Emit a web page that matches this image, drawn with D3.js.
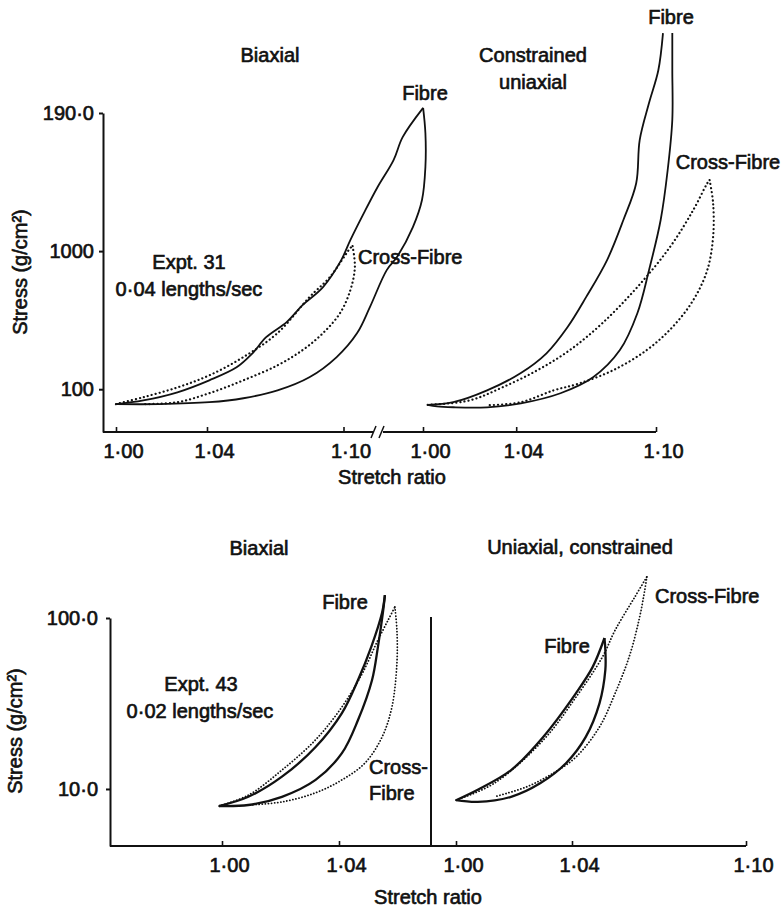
<!DOCTYPE html>
<html>
<head>
<meta charset="utf-8">
<script src="https://cdn.jsdelivr.net/npm/d3@7"></script>
<style>
  body { margin: 0; background: #fff; }
  svg text { font-family: "Liberation Sans", Arial, sans-serif; font-size: 20px; fill: #111; stroke: #111; stroke-width: 0.65px; }
</style>
</head>
<body>
<div id="chart"></div>
<script>
// ---- data: [stretch ratio, stress g/cm2] ----
// Expt. 31, 0.04 lengths/sec
const bi31FibreLoad = [[1.000,78],[1.012,83],[1.027,95],[1.041,116],[1.053,144],[1.060,182],[1.066,238],[1.075,306],[1.082,406],[1.091,549],[1.099,861],[1.103,1200],[1.109,1890],[1.115,2910],[1.122,4560],[1.126,6690],[1.135,10900]]
const bi31FibreUnload = [[1.135,10900],[1.136,7160],[1.136,4065],[1.1345,2344],[1.1305,1493],[1.1235,905],[1.119,728],[1.1116,393],[1.106,255],[1.097,171],[1.085,122],[1.071,98],[1.056,86],[1.041,80.5],[1.019,78],[1.000,78]]
const bi31CrossLoad = [[1.000,78],[1.012,87.5],[1.027,103],[1.041,126],[1.056,171],[1.071,255],[1.085,464],[1.094,649],[1.103,1052],[1.104,1087]]
const bi31CrossUnload = [[1.104,1087],[1.105,766],[1.103,521],[1.0985,356],[1.091,255],[1.082,192],[1.071,149],[1.056,116],[1.041,93.5],[1.027,80.5],[1.012,78]]
const uni31FibreLoad = [[1.002,77],[1.013,80.5],[1.0275,98],[1.042,131],[1.053,182],[1.062,281],[1.070,464],[1.079,861],[1.086,1680],[1.0915,3100],[1.093,6370],[1.097,11800],[1.101,20400],[1.103,37900]]
const uni31FibreUnload = [[1.107,37900],[1.107,20400],[1.107,8940],[1.105,3850],[1.102,1680],[1.097,728],[1.092,355],[1.0845,192],[1.073,122],[1.059,93.5],[1.042,79],[1.0275,74],[1.013,74],[1.006,75],[1.002,77]]
const uni31CrossLoad = [[1.002,77],[1.020,83],[1.034,103],[1.049,137],[1.063,192],[1.077,301],[1.092,549],[1.106,1070],[1.116,1985],[1.122,3100],[1.123,3270]]
const uni31CrossUnload = [[1.123,3270],[1.1245,2237],[1.1245,1260],[1.122,728],[1.116,442],[1.107,281],[1.096,192],[1.0815,137],[1.067,110],[1.056,98],[1.042,80.5],[1.028,76.6]]
// Expt. 43, 0.02 lengths/sec
const bi43FibreLoad = [[0.999,7.95],[1.009,9.0],[1.0205,11.8],[1.032,17.6],[1.041,27.8],[1.0465,43.4],[1.051,67.6],[1.0547,107],[1.0557,136]]
const bi43FibreUnload = [[1.0557,136],[1.055,107],[1.0533,67.6],[1.0513,43.4],[1.0465,25.3],[1.041,16.2],[1.032,11.3],[1.0205,9.0],[1.009,8.06],[0.999,7.95]]
const bi43CrossLoad = [[0.999,7.95],[1.009,9.2],[1.0205,12.9],[1.032,19.4],[1.041,30.2],[1.048,47.6],[1.0533,74.3],[1.0568,97.3],[1.0591,116]]
const bi43CrossUnload = [[1.0591,116],[1.0598,85.1],[1.0598,54.6],[1.0581,30.2],[1.0547,20.1],[1.0489,14.2],[1.041,11.3],[1.032,9.5],[1.0205,8.4],[1.009,8.06]]
const uni43FibreLoad = [[1.000,8.6],[1.0075,9.9],[1.019,12.9],[1.030,20.1],[1.0414,36.4],[1.0471,51.6],[1.0512,76.4]]
const uni43FibreUnload = [[1.0512,76.4],[1.0515,65],[1.0515,49.7],[1.0495,31.8],[1.0447,20.1],[1.038,14.2],[1.029,10.8],[1.019,9.0],[1.0075,8.4],[1.000,8.6]]
const uni43CrossLoad = [[1.000,8.6],[1.0132,10.8],[1.0302,19.4],[1.0414,34.5],[1.0505,59.2],[1.0549,85.1],[1.0617,133],[1.0658,174]]
const uni43CrossUnload = [[1.0658,174],[1.0651,146],[1.0631,97.3],[1.0597,59.2],[1.0549,36.4],[1.0495,23.1],[1.0414,15.4],[1.0336,12.4],[1.0244,10.3],[1.0132,9.0]]

// ---- ticks ----
const topStressTicks = [100, 1000, 10000]
const topStressLabels = ["100", "1000", "190·0"]
const botStressTicks = [10, 100]
const botStressLabels = ["10·0", "100·0"]
const topStretchTicksL = [1.00, 1.04, 1.10]
const topStretchTicksR = [1.00, 1.04, 1.10]
const botStretchTicksL = [1.00, 1.04]
const botStretchTicksR = [1.00, 1.04, 1.10]

const width = 784, height = 909
const svg = d3.select("#chart").append("svg")
    .attr("width", width).attr("height", height)
    .style("background", "#fff")

const fmtStretch = d => d3.format(".2f")(d).replace(".", "·")

// scales
const yTop = d3.scaleLog().domain([49, 10000]).range([432, 113])
const xTopL = d3.scaleLinear().domain([1.00, 1.10]).range([116, 343.5])
const xTopR = d3.scaleLinear().domain([1.00, 1.10]).range([423, 656])
const yBot = d3.scaleLog().domain([4.64, 100]).range([846, 618])
const xBotL = d3.scaleLinear().domain([1.00, 1.04]).range([222, 339])
const xBotR = d3.scaleLinear().domain([1.00, 1.10]).range([456, 746])

function strokeAxis(g, w) {
    g.selectAll("path, line").attr("stroke", "#111").attr("stroke-width", w)
    g.selectAll("text").attr("fill", "#111")
}

// y axes
function stressAxis(x, scale, ticks, labels, pad) {
    const g = svg.append("g").attr("transform", `translate(${x},0)`)
        .call(d3.axisLeft(scale).tickValues(ticks)
            .tickFormat((d, i) => labels[i]).tickSize(4).tickSizeOuter(0).tickPadding(pad))
    g.selectAll("text").style("font-size", "20px").attr("font-family", null)
    strokeAxis(g, 2)
    return g
}
stressAxis(103, yTop, topStressTicks, topStressLabels, 5)
stressAxis(110, yBot, botStressTicks, botStressLabels, 8)

// x axes (ticks point inwards, labels sit a bit right of tick)
function stretchAxis(y, scale, ticks) {
    const g = svg.append("g").attr("transform", `translate(0,${y})`)
        .call(d3.axisBottom(scale).tickValues(ticks).tickFormat(fmtStretch)
            .tickSize(-5).tickPadding(12))
    g.select(".domain").remove()
    g.selectAll("text").attr("dx", 7).attr("font-family", null).style("font-size", "20px")
    strokeAxis(g, 1.6)
    return g
}
stretchAxis(432, xTopL, topStretchTicksL)
stretchAxis(432, xTopR, topStretchTicksR)
stretchAxis(846, xBotL, botStretchTicksL)
stretchAxis(846, xBotR, botStretchTicksR)

// baselines
const axisLine = (x1, y1, x2, y2, w) => svg.append("line")
    .attr("x1", x1).attr("y1", y1).attr("x2", x2).attr("y2", y2)
    .attr("stroke", "#111").attr("stroke-width", w || 2)
axisLine(103, 432, xTopR(1.00) - 50, 432)
axisLine(xTopR(1.00) - 40, 432, xTopR.range()[1], 432)
axisLine(xTopR(1.00) - 52, 438, xTopR(1.00) - 47, 426, 1.5)
axisLine(xTopR(1.00) - 44, 438, xTopR(1.00) - 39, 426, 1.5)
axisLine(110, 846, xBotR.range()[1], 846)
axisLine(431, 617, 431, 846, 2)

// curves
function drawBranch(data, xs, ys, dotted, w, gap) {
    const line = d3.line().x(d => xs(d[0])).y(d => ys(d[1])).curve(d3.curveCatmullRom.alpha(0.5))
    const p = svg.append("path").datum(data).attr("d", line)
        .attr("fill", "none").attr("stroke", "#111")
    if (dotted) {
        p.attr("stroke-width", w).attr("stroke-dasharray", "0.1 " + gap).attr("stroke-linecap", "round")
    } else {
        p.attr("stroke-width", w).attr("stroke-linejoin", "miter")
    }
}
drawBranch(bi31FibreLoad, xTopL, yTop, false, 1.8)
drawBranch(bi31FibreUnload, xTopL, yTop, false, 1.8)
drawBranch(bi31CrossLoad, xTopL, yTop, true, 2.2, 4)
drawBranch(bi31CrossUnload, xTopL, yTop, true, 2.2, 4)
drawBranch(uni31FibreLoad, xTopR, yTop, false, 1.8)
drawBranch(uni31FibreUnload, xTopR, yTop, false, 1.8)
drawBranch(uni31CrossLoad, xTopR, yTop, true, 2.2, 4)
drawBranch(uni31CrossUnload, xTopR, yTop, true, 2.2, 4)
drawBranch(bi43FibreLoad, xBotL, yBot, false, 2.3)
drawBranch(bi43FibreUnload, xBotL, yBot, false, 2.3)
drawBranch(bi43CrossLoad, xBotL, yBot, true, 1.8, 3)
drawBranch(bi43CrossUnload, xBotL, yBot, true, 1.8, 3)
drawBranch(uni43FibreLoad, xBotR, yBot, false, 2.3)
drawBranch(uni43FibreUnload, xBotR, yBot, false, 2.3)
drawBranch(uni43CrossLoad, xBotR, yBot, true, 1.8, 3)
drawBranch(uni43CrossUnload, xBotR, yBot, true, 1.8, 3)

// text
function label(x, y, txt, anchor, rot) {
    const t = svg.append("text").attr("x", x).attr("y", y)
        .attr("text-anchor", anchor || "middle").attr("dominant-baseline", "central").text(txt)
    if (rot) t.attr("transform", `rotate(${rot},${x},${y})`)
    return t
}
label(270, 55, "Biaxial")
label(533, 55, "Constrained")
label(533, 82, "uniaxial")
label(425, 93, "Fibre")
label(671, 17, "Fibre")
label(728, 162, "Cross-Fibre")
label(358, 257, "Cross-Fibre", "start")
label(189, 262, "Expt. 31")
label(189, 289, "0·04 lengths/sec")
label(20, 272, "Stress (g/cm²)", "middle", -90)
label(392, 477, "Stretch ratio")

label(259, 548, "Biaxial")
label(580, 547, "Uniaxial, constrained")
label(345, 602, "Fibre")
label(369, 767, "Cross-", "start")
label(369, 793, "Fibre", "start")
label(567, 646, "Fibre")
label(655, 596, "Cross-Fibre", "start")
label(201, 684, "Expt. 43")
label(200, 711, "0·02 lengths/sec")
label(15, 731, "Stress (g/cm²)", "middle", -90)
label(428, 897, "Stretch ratio")
</script>
</body>
</html>
